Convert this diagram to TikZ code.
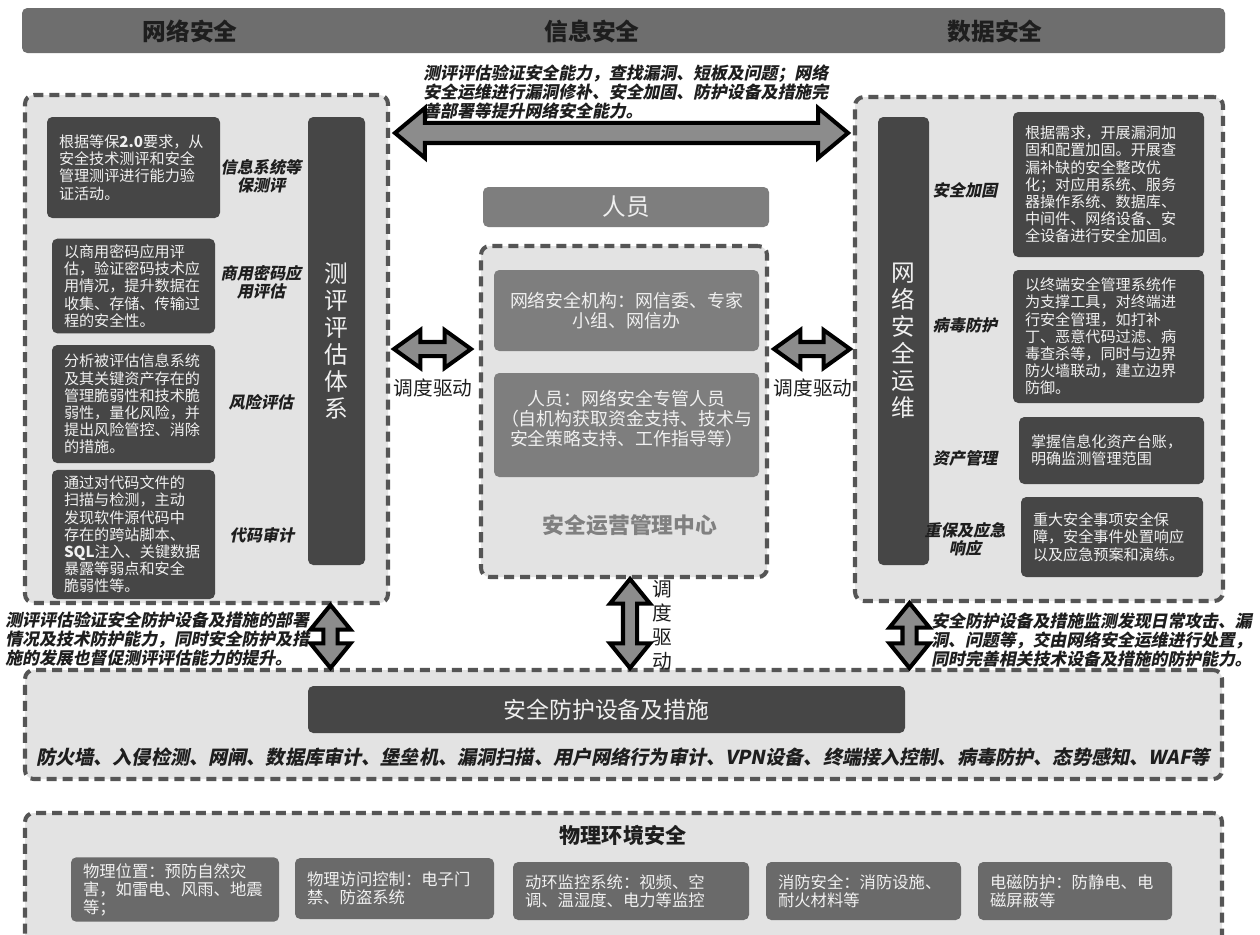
\documentclass[tikz,border=0pt]{standalone}
\usepackage{fontspec}
\setmainfont{Noto Sans CJK SC}
\newfontfamily\slantfont{Noto Sans CJK SC}[FakeSlant=0.2]
\usetikzlibrary{calc}
\definecolor{hdrgray}{HTML}{6E6E6E}
\definecolor{boxdark}{HTML}{464646}
\definecolor{boxmid}{HTML}{7E7E7E}
\definecolor{boxphys}{HTML}{6A6A6A}
\definecolor{panelgray}{HTML}{E3E3E3}
\definecolor{dashgray}{HTML}{555555}
\definecolor{arrowgray}{HTML}{8C8C8C}
\definecolor{inktext}{HTML}{1E1E1E}
\definecolor{boxtext}{HTML}{F0F0F0}
\definecolor{soctext}{HTML}{808080}
\newdimen\pxu \pxu=0.02cm
% double block arrows: from, to, head length, head half-width, shaft half-width
\newcommand{\harrow}[5]{%
  \draw[blockarrow] let \p1=(#1), \p2=(#2) in
    (\x1,\y1) -- (\x1+#3,\y1+#4) -- (\x1+#3,\y1+#5) -- (\x2-#3,\y1+#5)
    -- (\x2-#3,\y1+#4) -- (\x2,\y1) -- (\x2-#3,\y1-#4) -- (\x2-#3,\y1-#5)
    -- (\x1+#3,\y1-#5) -- (\x1+#3,\y1-#4) -- cycle;}
\newcommand{\varrow}[5]{%
  \draw[blockarrow] let \p1=(#1), \p2=(#2) in
    (\x1,\y1) -- (\x1+#4,\y1-#3) -- (\x1+#5,\y1-#3) -- (\x1+#5,\y2+#3)
    -- (\x1+#4,\y2+#3) -- (\x1,\y2) -- (\x1-#4,\y2+#3) -- (\x1-#5,\y2+#3)
    -- (\x1-#5,\y1-#3) -- (\x1-#4,\y1-#3) -- cycle;}
\tikzset{
  wh/.style 2 args={minimum width=#1*\pxu, minimum height=#2*\pxu},
  panel/.style={draw=dashgray, line width=2.3pt, dash pattern=on 5.7pt off 3.4pt,
    fill=panelgray, rounded corners=5pt, inner sep=0pt},
  hdrbar/.style={fill=hdrgray, rounded corners=3pt},
  hdrtitle/.style={text=inktext, font=\bfseries\fontsize{13.5}{15}\selectfont},
  darkbox/.style 2 args={fill=boxdark, rounded corners=3pt, text=boxtext, wh={#1}{#2},
    text width=(#1-24)*\pxu, inner xsep=12*\pxu, align=left,
    font=\fontsize{8.6}{9.8}\selectfont},
  physbox/.style 2 args={fill=boxphys, rounded corners=3pt, text=boxtext, wh={#1}{#2},
    text width=(#1-24)*\pxu, inner xsep=12*\pxu, align=left,
    font=\fontsize{9.3}{10.3}\selectfont},
  midbox/.style 2 args={fill=boxmid, rounded corners=3pt, text=boxtext, wh={#1}{#2},
    align=center, font=\fontsize{10.2}{11.4}\selectfont},
  sidebar/.style 2 args={fill=boxdark, rounded corners=3pt, text=boxtext, wh={#1}{#2},
    align=center, font=\fontsize{13.5}{15.4}\selectfont},
  tag/.style={text=inktext, align=center, inner sep=0pt,
    font=\slantfont\bfseries\fontsize{9.2}{10.4}\selectfont},
  note/.style={text=inktext, align=left, inner sep=0pt,
    font=\slantfont\bfseries\fontsize{9.6}{10.9}\selectfont},
  drive/.style={text=inktext, inner sep=0pt, align=center,
    font=\fontsize{11.2}{13.7}\selectfont},
  blockarrow/.style={draw=black, fill=arrowgray, line width=2.3pt, line join=miter}
}
\begin{document}
\begin{tikzpicture}[x=0.02cm, y=-0.02cm]
  \useasboundingbox (0,0) rectangle (1260,934);
  \clip (0,0) rectangle (1260,934);
  \fill[white] (0,0) rectangle (1260,934);

  % top banner
  \node[hdrbar, wh={1203}{45}] (hdr) at (623.5,30.5) {};
  \node[hdrtitle] (netsec) at (190,31) {网络安全};
  \node[hdrtitle] (infosec) at (592,31) {信息安全};
  \node[hdrtitle] (datasec) at (995,31) {数据安全};

  \node[note, anchor=west] (toptext) at (423,92) {测评评估验证安全能力，查找漏洞、短板及问题；网络\\安全运维进行漏洞修补、安全加固、防护设备及措施完\\善部署等提升网络安全能力。};

  % evaluation system (left)
  \node[panel, wh={363}{508}] (evalsys) at (206.5,349) {};
  \node[sidebar={57}{448}] (evalbar) at (336.5,341) {测\\评\\评\\估\\体\\系};
  \node[darkbox={173}{101}] (iso) at (133.5,167.5) {根据等保\textbf{2.0}要求，从\\安全技术测评和安全\\管理测评进行能力验\\证活动。};
  \node[darkbox={163}{94}] (crypto) at (133.5,286) {以商用密码应用评\\估，验证密码技术应\\用情况，提升数据在\\收集、存储、传输过\\程的安全性。};
  \node[darkbox={163}{118}] (risk) at (133.5,404) {分析被评估信息系统\\及其关键资产存在的\\管理脆弱性和技术脆\\弱性，量化风险，并\\提出风险管控、消除\\的措施。};
  \node[darkbox={163}{125}] (audit) at (133.5,534.5) {通过对代码文件的\\扫描与检测，主动\\发现软件源代码中\\存在的跨站脚本、\\\textbf{SQL}注入、关键数据\\暴露等弱点和安全\\脆弱性等。};
  \node[tag] (isotag) at (261,176) {信息系统等\\保测评};
  \node[tag] (cryptotag) at (261,282) {商用密码应\\用评估};
  \node[tag] (risktag) at (261,402) {风险评估};
  \node[tag] (audittag) at (262,535) {代码审计};

  % security operations (right)
  \node[panel, wh={368}{504}] (opsys) at (1039,349) {};
  \node[sidebar={51}{448}] (opsbar) at (903.5,341) {网\\络\\安\\全\\运\\维};
  \node[darkbox={191}{145}] (harden) at (1108.5,184.5) {根据需求，开展漏洞加\\固和配置加固。开展查\\漏补缺的安全整改优\\化；对应用系统、服务\\器操作系统、数据库、\\中间件、网络设备、安\\全设备进行安全加固。};
  \node[darkbox={191}{133}] (virus) at (1108.5,336.5) {以终端安全管理系统作\\为支撑工具，对终端进\\行安全管理，如打补\\丁、恶意代码过滤、病\\毒查杀等，同时与边界\\防火墙联动，建立边界\\防御。};
  \node[darkbox={185}{67}] (asset) at (1111.5,450.5) {掌握信息化资产台账，\\明确监测管理范围};
  \node[darkbox={182}{80}] (respond) at (1112,537) {重大安全事项安全保\\障，安全事件处置响应\\以及应急预案和演练。};
  \node[tag] (hardentag) at (965,190) {安全加固};
  \node[tag] (virustag) at (965,325) {病毒防护};
  \node[tag] (assettag) at (965,458) {资产管理};
  \node[tag] (respondtag) at (965,539) {重保及应急\\响应};

  % operations centre
  \node[midbox={286}{40}, font=\fontsize{13.4}{15}\selectfont] (people) at (626,207) {人员};
  \node[panel, wh={286}{331}] (soc) at (624,411.5) {};
  \node[midbox={265}{81}] (org) at (626.5,310.5) {网络安全机构：网信委、专家\\小组、网信办};
  \node[midbox={265}{104}, text depth=14*\pxu] (staff) at (626.5,425) {人员：网络安全专管人员\\（自机构获取资金支持、技术与\\安全策略支持、工作指导等）};
  \node[text=soctext, font=\bfseries\fontsize{12.4}{14}\selectfont] (soctitle) at (630,525) {安全运营管理中心};

  % protection devices
  \node[panel, wh={1197}{109}] (protect) at (623.5,724.5) {};
  \node[fill=boxdark, rounded corners=3pt, wh={597}{47}, text=boxtext,
        font=\fontsize{13}{15}\selectfont] (devbar) at (606.5,709.5) {安全防护设备及措施};
  \node[text=inktext, inner sep=0pt, font=\slantfont\bfseries\fontsize{10.9}{12}\selectfont]
        (devlist) at (623,757) {防火墙、入侵检测、网闸、数据库审计、堡垒机、漏洞扫描、用户网络行为审计、VPN设备、终端接入控制、病毒防护、态势感知、WAF等};

  % physical environment
  \node[panel, wh={1197}{147}] (phys) at (623.5,886.5) {};
  \node[text=inktext, font=\bfseries\fontsize{12}{14}\selectfont] (phystitle) at (623,835) {物理环境安全};
  \node[physbox={208}{63}] (place) at (175,889.5) {物理位置：预防自然灾\\害，如雷电、风雨、地震\\等；};
  \node[physbox={199}{61}] (access) at (394.5,888.5) {物理访问控制：电子门\\禁、防盗系统};
  \node[physbox={236}{58}] (envmon) at (631,891) {动环监控系统：视频、空\\调、温湿度、电力等监控};
  \node[physbox={195}{58}] (fire) at (863.5,891) {消防安全：消防设施、\\耐火材料等};
  \node[physbox={194}{58}] (emc) at (1075,891) {电磁防护：防静电、电\\磁屏蔽等};

  % connectors
  \coordinate (ta) at ($(evalsys.north east)+(5,40)$);
  \coordinate (tb) at ($(opsys.north west)+(-5,38)$);
  \harrow{ta}{tb}{17pt}{14.2pt}{5.7pt}
  \harrow{$(evalsys.east)+(4,0)$}{$(soc.west |- evalsys.east)+(-8,0)$}{15pt}{10.8pt}{4pt}
  \harrow{$(soc.east |- evalsys.east)+(5,0)$}{$(opsys.west)+(-3,0)$}{15pt}{10.8pt}{4pt}
  \varrow{$(evalsys.south -| evalbar)+(-6,0)$}{protect.north}{14pt}{11.4pt}{4pt}
  \varrow{$(soc.south)+(6,0)$}{protect.north}{14pt}{11.4pt}{4pt}
  \varrow{$(opsys.south -| opsbar)+(6,0)$}{protect.north}{14pt}{11.4pt}{4pt}

  \node[drive] (driveL) at (433,388) {调度驱动};
  \node[drive] (driveR) at (813,388) {调度驱动};
  \node[drive] (driveD) at (662,625) {调\\度\\驱\\动};

  \node[note, anchor=west] (leftnote) at (5,639) {测评评估验证安全防护设备及措施的部署\\情况及技术防护能力，同时安全防护及措\\施的发展也督促测评评估能力的提升。};
  \node[note, anchor=west] (rightnote) at (931,640) {安全防护设备及措施监测发现日常攻击、漏\\洞、问题等，交由网络安全运维进行处置，\\同时完善相关技术设备及措施的防护能力。};
\end{tikzpicture}
\end{document}
